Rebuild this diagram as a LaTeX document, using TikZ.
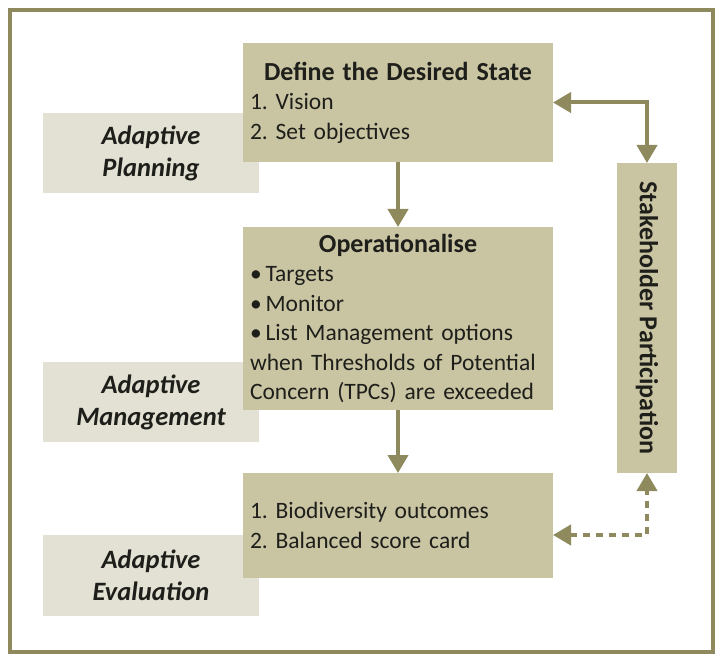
\documentclass[tikz,border=0pt]{standalone}
\usepackage{fontspec}
\setmainfont{Carlito}
\usetikzlibrary{arrows.meta}
\definecolor{boxdark}{HTML}{C9C5A3}
\definecolor{boxlight}{HTML}{E3E1D3}
\definecolor{linecol}{HTML}{8E8A5E}
\definecolor{inkcol}{HTML}{1E1E1A}
\newcommand\boxhead[1]{\centering{\fontsize{26}{29.5}\selectfont\bfseries #1}\par\raggedright}
\frenchspacing

\begin{document}
\begin{tikzpicture}[x=1pt,y=-1pt,
  every node/.style={text=inkcol, outer sep=0pt},
  darkbox/.style={fill=boxdark, minimum width=310pt, text width=296pt, inner sep=7pt, font=\fontsize{23.5}{29.5}\selectfont},
  lightbox/.style={fill=boxlight, minimum width=216pt, minimum height=80pt, align=center, font=\fontsize{26.5}{32}\selectfont\bfseries\itshape},
  link/.style={draw=linecol, line width=4pt, -{Triangle[width=20pt,length=18pt]}},
  twolink/.style={link, {Triangle[width=20pt,length=18pt]}-{Triangle[width=20pt,length=18pt]}},
  ]
\useasboundingbox (0,0) rectangle (717,663);
\draw[linecol, line width=3.5pt] (10,10) rectangle (713,652);

\node[lightbox] (plan) at (151,153.5) {Adaptive\\Planning};
\node[lightbox] (manage) at (151,402) {Adaptive\\Management};
\node[lightbox, minimum height=81pt] (evaluate) at (151,575.5) {Adaptive\\Evaluation};

\node[darkbox, minimum height=119pt] (define) at (398,102.5) {\boxhead{Define the Desired State}
  1. Vision\par 2. Set objectives\par};
\node[darkbox, minimum height=183pt] (oper) at (398,318.5) {\boxhead{Operationalise}
  \textbullet\,Targets\par \textbullet\,Monitor\par \textbullet\,List Management options when Thresholds of Potential Concern (TPCs) are exceeded\par};
\node[darkbox, minimum height=105pt] (outcome) at (398,525.5) {1. Biodiversity outcomes\par 2. Balanced score card\par};

\node[fill=boxdark, minimum width=310pt, minimum height=60pt, rotate=-90, font=\fontsize{26}{30}\selectfont\bfseries] (stake) at (647,318) {Stakeholder Participation};

\draw[link] (define) -- (oper);
\draw[link] (oper) -- (outcome);
\draw[twolink] (define.east) -| (stake.west);
\draw[twolink, dash pattern=on 7pt off 6pt] ([yshift=-9.5pt]outcome.east) -| (stake.east);

\end{tikzpicture}
\end{document}
